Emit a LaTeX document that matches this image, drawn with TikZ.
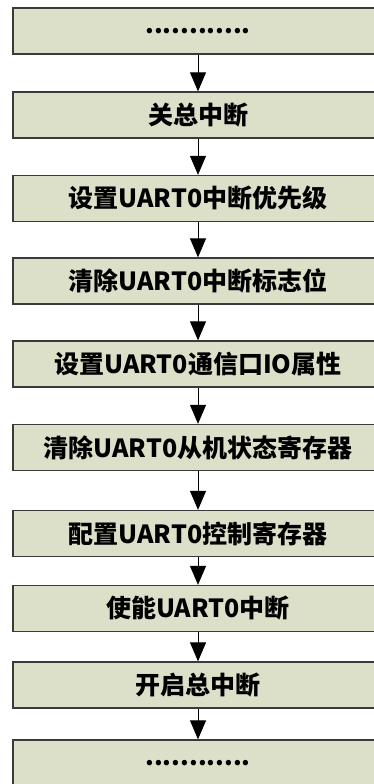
\documentclass[tikz,border=0pt]{standalone}
\usepackage{fontspec}
\setmainfont{Noto Sans CJK SC}
\usetikzlibrary{arrows.meta}
\definecolor{uartfill}{HTML}{DDE0C8}
\definecolor{uartline}{HTML}{3A3A3A}
\begin{document}
\begin{tikzpicture}[x=1pt, y=-1pt, font=\fontsize{25}{30}\selectfont\bfseries,
    stepbox/.style={draw=uartline, fill=uartfill, line width=1.3pt,
      minimum width=370pt, minimum height=46pt, inner sep=0pt},
    flow/.style={-{Triangle[length=19pt, width=16pt]}, line width=1pt}]
  \useasboundingbox (0,0) rectangle (373,784);
  \foreach \n/\y/\t in {1/31/{............}, 2/115/{关总中断},
                        3/198.5/{设置UART0中断优先级}, 4/281/{清除UART0中断标志位},
                        5/364/{设置UART0通信口IO属性}, 6/447.5/{清除UART0从机状态寄存器},
                        7/533.5/{配置UART0控制寄存器}, 8/608.5/{使能UART0中断},
                        9/685/{开启总中断}, 10/763/{............}} {
    \node[stepbox] (s\n) at (198,\y) {\t};
  }
  \foreach \a/\b in {1/2, 2/3, 3/4, 4/5, 5/6, 6/7, 7/8, 8/9, 9/10} {
    \draw[flow] (s\a) -- (s\b);
  }
\end{tikzpicture}
\end{document}
